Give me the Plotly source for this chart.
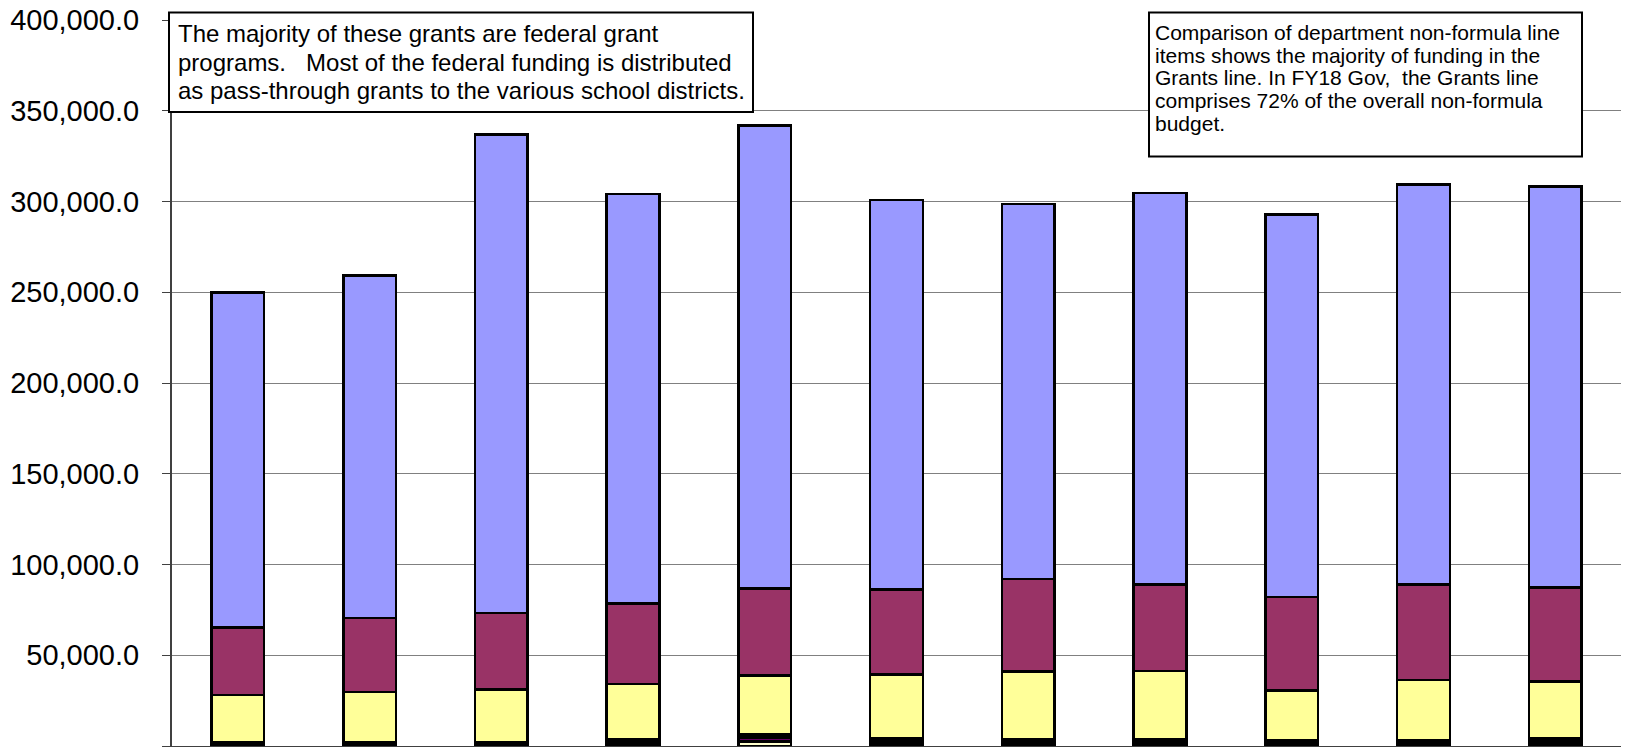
import plotly.graph_objects as go

categories = ["FY08", "FY09", "FY10", "FY11", "FY12", "FY13", "FY14", "FY15", "FY16", "FY17", "FY18 Gov"]

# small bottom line items
equipment = [700, 700, 700, 1000, 2500, 1500, 1200, 1200, 1000, 1000, 1200]
other_exp = [800, 800, 800, 1500, 2200, 1300, 1300, 1300, 1000, 1100, 1400]
capital = [700, 800, 700, 1000, 1700, 1300, 1300, 1300, 1000, 1100, 1400]
# main line items
personal_services = [25900, 27500, 28900, 30700, 32400, 35400, 37200, 37400, 27700, 33200, 31500]
contractual = [37200, 40600, 42200, 44300, 48000, 46700, 50900, 47800, 51500, 52600, 51800]
grants = [184700, 188700, 263500, 225700, 255100, 214600, 206600, 215800, 210600, 220400, 220900]

left_note = [
    "The majority of these grants are federal grant",
    "programs.&nbsp;&nbsp; Most of the federal funding is distributed",
    "as pass-through grants to the various school districts.",
]
right_note = [
    "Comparison of department non-formula line",
    "items shows the majority of funding in the",
    "Grants line. In FY18 Gov,&nbsp; the Grants line",
    "comprises 72% of the overall non-formula",
    "budget.",
]

series = [
    ("Equipment", equipment, "#FFFFCC"),
    ("Other Expenses", other_exp, "#660066"),
    ("Capital", capital, "#333333"),
    ("Personal Services", personal_services, "#FFFF99"),
    ("Contractual", contractual, "#993366"),
    ("Grants", grants, "#9999FF"),
]

fig = go.Figure()
for name, vals, color in series:
    fig.add_trace(go.Bar(
        x=categories, y=vals, name=name,
        marker=dict(color=color, line=dict(color="#000000", width=2.5)),
    ))

FONT = "Liberation Sans, Arial, sans-serif"

# plot area geometry (pixels) for converting box placement to paper coords
L, T, W, H = 172, 20, 1449, 726
def px(x):
    return (x - L) / W
def py(y):
    return (T + H - y) / H

shapes = [
    dict(type="rect", xref="paper", yref="paper",
         x0=px(169), x1=px(753), y0=py(112), y1=py(12.4),
         fillcolor="white", line=dict(color="black", width=2), layer="above"),
    dict(type="rect", xref="paper", yref="paper",
         x0=px(1149), x1=px(1582), y0=py(156.5), y1=py(12.4),
         fillcolor="white", line=dict(color="black", width=2), layer="above"),
]

annotations = []
for i, line in enumerate(left_note):
    annotations.append(dict(
        xref="paper", yref="paper", x=px(176), y=py(33.5 + 28.5 * i),
        xanchor="left", yanchor="middle", showarrow=False, text=line,
        font=dict(family=FONT, size=24, color="black")))
for i, line in enumerate(right_note):
    annotations.append(dict(
        xref="paper", yref="paper", x=px(1153), y=py(32.3 + 22.8 * i),
        xanchor="left", yanchor="middle", showarrow=False, text=line,
        font=dict(family=FONT, size=21, color="black")))

fig.update_layout(
    width=1625, height=747,
    margin=dict(l=L, r=4, t=T, b=1),
    barmode="stack", bargap=0.6,
    showlegend=False,
    plot_bgcolor="white", paper_bgcolor="white",
    font=dict(family=FONT, color="black"),
    xaxis=dict(showticklabels=False, showgrid=False, showline=True,
               linecolor="#404040", linewidth=1.5, ticks=""),
    yaxis=dict(range=[0, 400000], dtick=50000, tickformat=",.1f",
               showgrid=True, gridcolor="#808080", gridwidth=1,
               showline=True, linecolor="#404040", linewidth=2,
               ticks="outside", ticklen=8, tickcolor="#404040",
               ticklabelstandoff=17,
               tickfont=dict(family=FONT, size=29, color="black"),
               zeroline=False),
    shapes=shapes,
    annotations=annotations,
)

fig.write_html("out.html")
